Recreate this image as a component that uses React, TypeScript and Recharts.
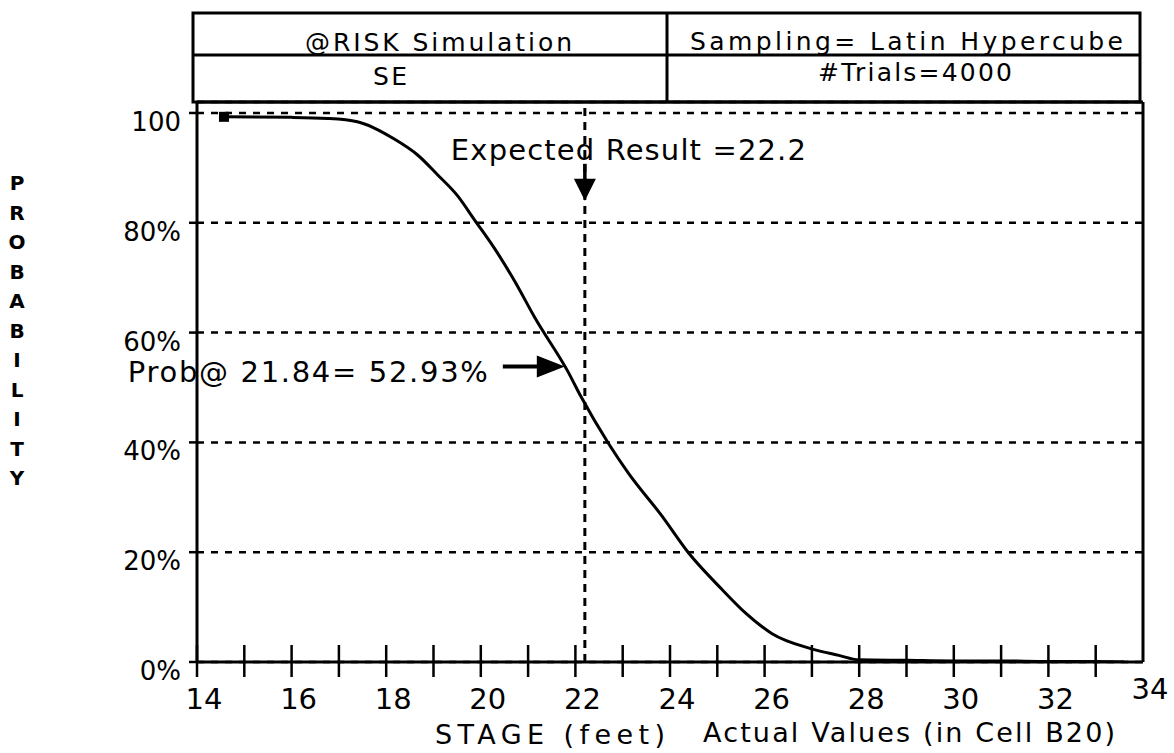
import React from "react";
import {
  LineChart,
  Line,
  XAxis,
  YAxis,
  CartesianGrid,
  ReferenceLine,
  ReferenceDot,
} from "recharts";

// stage (feet) and probability of exceeding (%)
const stage = [
  14.57, 16.0, 16.76, 17.39, 18.18, 18.67, 19.09, 19.51, 19.87, 20.3, 20.72,
  21.15, 21.84, 22.12, 22.7, 23.12, 23.82, 24.39, 25.09, 25.6, 26.15,
  26.99, 27.57, 27.99, 29.0, 30.0, 31.0, 32.0, 33.0, 33.6,
];
const probability = [
  99.3, 99.2, 99.0, 98.4, 95.2, 92.3, 88.7, 84.9, 80.5, 75.2, 69.3, 62.6,
  52.93, 48.3, 39.8, 34.4, 26.7, 19.9, 13.3, 8.9, 5.2, 2.4, 1.2, 0.4,
  0.3, 0.2, 0.2, 0.1, 0.1, 0.0,
];

const xTicks = [14, 15, 16, 17, 18, 19, 20, 21, 22, 23, 24, 25, 26, 27, 28, 29, 30, 31, 32, 33, 34];
const yTicks = [0, 20, 40, 60, 80, 100];

const expectedStage = 22.2;
const expectedArrowTip = 84;
const probStage = 21.84;
const probValue = 52.93;

const headerLeft = ["@RISK Simulation", "SE"];
const headerRight = ["Sampling= Latin Hypercube", "#Trials=4000"];
const yTitle = "PROBABILITY";
const xTitle = ["STAGE (feet)", "Actual Values (in Cell B20)"];

const FONT = "'DejaVu Sans', Verdana, sans-serif";

const data = stage.map((s, i) => ({ stage: s, prob: probability[i] }));

function XTick(props: any) {
  const { x, y, payload } = props;
  const v = payload.value;
  const last = v === xTicks[xTicks.length - 1];
  return (
    <g>
      {!last && (
        <line x1={x} x2={x} y1={y - 17} y2={y + 15} stroke="#000" strokeWidth={2.5} />
      )}
      {v % 2 === 0 && (
        <text
          x={x + 7}
          y={y + (last ? 37 : 47)}
          textAnchor="middle"
          fontSize={29}
          fontFamily={FONT}
          fill="#000"
        >
          {v}
        </text>
      )}
    </g>
  );
}

function YTick(props: any) {
  const { x, y, payload } = props;
  const v = payload.value;
  return (
    <text x={x} y={y + 18} textAnchor="end" fontSize={26} fontFamily={FONT} fill="#000">
      {v === 100 ? "100" : `${v}%`}
    </text>
  );
}

function StartDot(props: any) {
  const { cx, cy, index } = props;
  if (index !== 0) return <g key={`d${index}`} />;
  return <rect key="d0" x={cx - 5} y={cy - 5} width={10} height={10} fill="#000" />;
}

function ExpectedArrow(props: any) {
  const { cx, cy } = props;
  return (
    <g>
      <line x1={cx} x2={cx} y1={cy - 37} y2={cy - 18} stroke="#000" strokeWidth={3.5} />
      <polygon points={`${cx - 11},${cy - 22} ${cx + 11},${cy - 22} ${cx},${cy}`} fill="#000" />
      <text
        x={cx - 134}
        y={cy - 41}
        fontSize={29}
        fontFamily={FONT}
        fill="#000"
        textLength={355}
        lengthAdjust="spacing"
      >
        {`Expected Result =${expectedStage}`}
      </text>
    </g>
  );
}

function ProbArrow(props: any) {
  const { cx, cy } = props;
  const tx = cx - 3;
  const ty = cy - 5;
  return (
    <g>
      <line x1={tx - 62} x2={tx - 24} y1={ty} y2={ty} stroke="#000" strokeWidth={4} />
      <polygon points={`${tx - 28},${ty - 11} ${tx - 28},${ty + 11} ${tx},${ty}`} fill="#000" />
      <text
        x={cx - 440}
        y={cy + 11}
        fontSize={29}
        fontFamily={FONT}
        fill="#000"
        textLength={360}
        lengthAdjust="spacing"
      >
        {`Prob@ ${probStage}= ${probValue}%`}
      </text>
    </g>
  );
}

export default function App() {
  return (
    <div style={{ position: "absolute", left: 0, top: 0, width: 1174, height: 753, background: "#fff" }}>
      <LineChart
        width={1174}
        height={753}
        data={data}
        margin={{ top: 102, right: 31, bottom: 31, left: 117 }}
      >
        <CartesianGrid
          vertical={false}
          stroke="#000"
          strokeWidth={2.5}
          strokeDasharray="7 7"
        />
        <XAxis
          dataKey="stage"
          type="number"
          domain={[14, 34]}
          ticks={xTicks}
          interval={0}
          height={60}
          tickSize={0}
          tickMargin={0}
          tick={<XTick />}
          axisLine={{ stroke: "#000", strokeWidth: 3 }}
          allowDataOverflow
        />
        <YAxis
          type="number"
          domain={[0, 102]}
          ticks={yTicks}
          interval={0}
          width={80}
          tickSize={8}
          tickMargin={8}
          tick={<YTick />}
          tickLine={{ stroke: "#000", strokeWidth: 2.5 }}
          axisLine={{ stroke: "#000", strokeWidth: 3 }}
          allowDataOverflow
        />
        <ReferenceLine y={102} stroke="#000" strokeWidth={3} />
        <ReferenceLine x={34} stroke="#000" strokeWidth={3} />
        <ReferenceLine
          x={expectedStage}
          stroke="#000"
          strokeWidth={3}
          strokeDasharray="8 6"
        />
        <Line
          dataKey="prob"
          type="monotone"
          stroke="#000"
          strokeWidth={3}
          dot={(p: any) => <StartDot key={`dot${p.index}`} {...p} />}
          activeDot={false}
          isAnimationActive={false}
        />
        <ReferenceDot
          x={expectedStage}
          y={expectedArrowTip}
          shape={(p: any) => <ExpectedArrow {...p} />}
        />
        <ReferenceDot
          x={probStage}
          y={probValue}
          shape={(p: any) => <ProbArrow {...p} />}
        />
      </LineChart>
      <svg
        width={1174}
        height={753}
        style={{ position: "absolute", left: 0, top: 0, pointerEvents: "none" }}
        fontFamily={FONT}
      >
        <rect x={193} y={13} width={947} height={89} fill="none" stroke="#000" strokeWidth={3} />
        <line x1={193} x2={1140} y1={55} y2={55} stroke="#000" strokeWidth={3} />
        <line x1={667} x2={667} y1={13} y2={102} stroke="#000" strokeWidth={3} />
        <text x={305} y={51} fontSize={25} textLength={267} lengthAdjust="spacing">
          {headerLeft[0]}
        </text>
        <text x={373} y={85} fontSize={25} textLength={34} lengthAdjust="spacing">
          {headerLeft[1]}
        </text>
        <text x={690} y={50} fontSize={25} textLength={433} lengthAdjust="spacing">
          {headerRight[0]}
        </text>
        <text x={818} y={81} fontSize={25} textLength={194} lengthAdjust="spacing">
          {headerRight[1]}
        </text>
        {yTitle.split("").map((ch, i) => (
          <text
            key={i}
            x={17}
            y={190 + i * 29.5}
            fontSize={20}
            fontWeight="bold"
            textAnchor="middle"
          >
            {ch}
          </text>
        ))}
        <text x={435} y={744} fontSize={27} textLength={230} lengthAdjust="spacing">
          {xTitle[0]}
        </text>
        <text x={703} y={742} fontSize={27} textLength={412} lengthAdjust="spacing">
          {xTitle[1]}
        </text>
      </svg>
    </div>
  );
}
